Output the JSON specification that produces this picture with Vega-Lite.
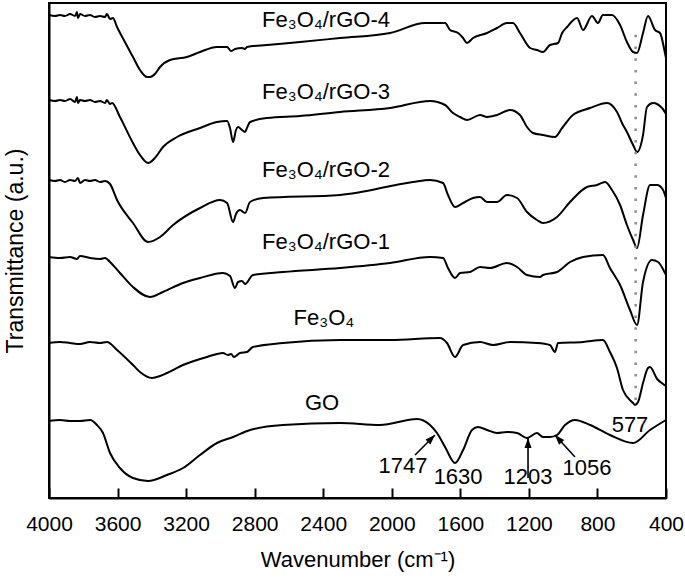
{
"$schema": "https://vega.github.io/schema/vega-lite/v6.json",
"width": 617, "height": 495,
"autosize": "none",
"padding": {"left": 49, "top": 3, "right": 19, "bottom": 80},
"config": {"view": {"stroke": "black", "strokeWidth": 2}, "font": "Liberation Sans", "axis": {"grid": false}},
"datasets": {
"spectra": [
{"s":"rGO4","w":4000,"T":483},{"s":"rGO4","w":3965,"T":482},{"s":"rGO4","w":3936,"T":483},{"s":"rGO4","w":3907,"T":482},{"s":"rGO4","w":3877,"T":484},{"s":"rGO4","w":3848,"T":482},{"s":"rGO4","w":3837,"T":486},{"s":"rGO4","w":3831,"T":480},{"s":"rGO4","w":3819,"T":484},{"s":"rGO4","w":3790,"T":482},{"s":"rGO4","w":3761,"T":483},{"s":"rGO4","w":3732,"T":481},{"s":"rGO4","w":3702,"T":482},{"s":"rGO4","w":3673,"T":481},{"s":"rGO4","w":3662,"T":484},{"s":"rGO4","w":3644,"T":479},{"s":"rGO4","w":3627,"T":480},{"s":"rGO4","w":3603,"T":471},{"s":"rGO4","w":3557,"T":456},{"s":"rGO4","w":3510,"T":441},{"s":"rGO4","w":3469,"T":428},{"s":"rGO4","w":3428,"T":421},{"s":"rGO4","w":3411,"T":421},{"s":"rGO4","w":3382,"T":424},{"s":"rGO4","w":3352,"T":431},{"s":"rGO4","w":3294,"T":438},{"s":"rGO4","w":3195,"T":441},{"s":"rGO4","w":3119,"T":446},{"s":"rGO4","w":3020,"T":451},{"s":"rGO4","w":2961,"T":451},{"s":"rGO4","w":2938,"T":447},{"s":"rGO4","w":2915,"T":449},{"s":"rGO4","w":2874,"T":450},{"s":"rGO4","w":2856,"T":449},{"s":"rGO4","w":2845,"T":451},{"s":"rGO4","w":2728,"T":453},{"s":"rGO4","w":2535,"T":456},{"s":"rGO4","w":2302,"T":460},{"s":"rGO4","w":2010,"T":465},{"s":"rGO4","w":1806,"T":475},{"s":"rGO4","w":1777,"T":475},{"s":"rGO4","w":1689,"T":475},{"s":"rGO4","w":1660,"T":468},{"s":"rGO4","w":1613,"T":465},{"s":"rGO4","w":1584,"T":460},{"s":"rGO4","w":1561,"T":455},{"s":"rGO4","w":1526,"T":460},{"s":"rGO4","w":1444,"T":465},{"s":"rGO4","w":1386,"T":470},{"s":"rGO4","w":1328,"T":475},{"s":"rGO4","w":1293,"T":475},{"s":"rGO4","w":1252,"T":465},{"s":"rGO4","w":1193,"T":450},{"s":"rGO4","w":1153,"T":448},{"s":"rGO4","w":1118,"T":446},{"s":"rGO4","w":1077,"T":453},{"s":"rGO4","w":1030,"T":455},{"s":"rGO4","w":1006,"T":465},{"s":"rGO4","w":977,"T":471},{"s":"rGO4","w":919,"T":480},{"s":"rGO4","w":884,"T":468},{"s":"rGO4","w":832,"T":482},{"s":"rGO4","w":797,"T":475},{"s":"rGO4","w":768,"T":483},{"s":"rGO4","w":715,"T":483},{"s":"rGO4","w":668,"T":473},{"s":"rGO4","w":628,"T":456},{"s":"rGO4","w":592,"T":446},{"s":"rGO4","w":569,"T":445},{"s":"rGO4","w":534,"T":465},{"s":"rGO4","w":505,"T":482},{"s":"rGO4","w":464,"T":468},{"s":"rGO4","w":435,"T":465},{"s":"rGO4","w":406,"T":445},{"s":"rGO4","w":400,"T":440},

{"s":"rGO3","w":4000,"T":398},{"s":"rGO3","w":3965,"T":397},{"s":"rGO3","w":3936,"T":398},{"s":"rGO3","w":3907,"T":397},{"s":"rGO3","w":3877,"T":399},{"s":"rGO3","w":3848,"T":396},{"s":"rGO3","w":3837,"T":401},{"s":"rGO3","w":3831,"T":395},{"s":"rGO3","w":3819,"T":398},{"s":"rGO3","w":3790,"T":397},{"s":"rGO3","w":3761,"T":398},{"s":"rGO3","w":3732,"T":396},{"s":"rGO3","w":3702,"T":397},{"s":"rGO3","w":3673,"T":395},{"s":"rGO3","w":3662,"T":398},{"s":"rGO3","w":3644,"T":394},{"s":"rGO3","w":3632,"T":395},{"s":"rGO3","w":3586,"T":381},{"s":"rGO3","w":3510,"T":355},{"s":"rGO3","w":3469,"T":343},{"s":"rGO3","w":3422,"T":335},{"s":"rGO3","w":3382,"T":340},{"s":"rGO3","w":3335,"T":351},{"s":"rGO3","w":3253,"T":361},{"s":"rGO3","w":3119,"T":370},{"s":"rGO3","w":3020,"T":376},{"s":"rGO3","w":2961,"T":377},{"s":"rGO3","w":2944,"T":370},{"s":"rGO3","w":2926,"T":356},{"s":"rGO3","w":2909,"T":368},{"s":"rGO3","w":2897,"T":371},{"s":"rGO3","w":2874,"T":368},{"s":"rGO3","w":2856,"T":366},{"s":"rGO3","w":2845,"T":370},{"s":"rGO3","w":2827,"T":376},{"s":"rGO3","w":2728,"T":380},{"s":"rGO3","w":2535,"T":382},{"s":"rGO3","w":2302,"T":386},{"s":"rGO3","w":2010,"T":390},{"s":"rGO3","w":1777,"T":397},{"s":"rGO3","w":1689,"T":393},{"s":"rGO3","w":1643,"T":385},{"s":"rGO3","w":1601,"T":381},{"s":"rGO3","w":1561,"T":378},{"s":"rGO3","w":1485,"T":383},{"s":"rGO3","w":1444,"T":381},{"s":"rGO3","w":1386,"T":383},{"s":"rGO3","w":1310,"T":388},{"s":"rGO3","w":1252,"T":383},{"s":"rGO3","w":1211,"T":371},{"s":"rGO3","w":1176,"T":365},{"s":"rGO3","w":1118,"T":363},{"s":"rGO3","w":1048,"T":361},{"s":"rGO3","w":1006,"T":370},{"s":"rGO3","w":943,"T":383},{"s":"rGO3","w":843,"T":390},{"s":"rGO3","w":744,"T":395},{"s":"rGO3","w":686,"T":386},{"s":"rGO3","w":651,"T":373},{"s":"rGO3","w":628,"T":366},{"s":"rGO3","w":592,"T":353},{"s":"rGO3","w":569,"T":346},{"s":"rGO3","w":534,"T":363},{"s":"rGO3","w":511,"T":391},{"s":"rGO3","w":476,"T":395},{"s":"rGO3","w":423,"T":390},{"s":"rGO3","w":400,"T":384},

{"s":"rGO2","w":4000,"T":318},{"s":"rGO2","w":3965,"T":317},{"s":"rGO2","w":3936,"T":318},{"s":"rGO2","w":3907,"T":316},{"s":"rGO2","w":3877,"T":318},{"s":"rGO2","w":3848,"T":317},{"s":"rGO2","w":3831,"T":320},{"s":"rGO2","w":3819,"T":315},{"s":"rGO2","w":3790,"T":318},{"s":"rGO2","w":3761,"T":317},{"s":"rGO2","w":3732,"T":318},{"s":"rGO2","w":3702,"T":316},{"s":"rGO2","w":3673,"T":317},{"s":"rGO2","w":3644,"T":314},{"s":"rGO2","w":3603,"T":298},{"s":"rGO2","w":3510,"T":275},{"s":"rGO2","w":3422,"T":256},{"s":"rGO2","w":3352,"T":261},{"s":"rGO2","w":3276,"T":273},{"s":"rGO2","w":3119,"T":290},{"s":"rGO2","w":3002,"T":298},{"s":"rGO2","w":2961,"T":295},{"s":"rGO2","w":2926,"T":276},{"s":"rGO2","w":2909,"T":284},{"s":"rGO2","w":2886,"T":288},{"s":"rGO2","w":2856,"T":285},{"s":"rGO2","w":2827,"T":296},{"s":"rGO2","w":2751,"T":300},{"s":"rGO2","w":2302,"T":303},{"s":"rGO2","w":1876,"T":316},{"s":"rGO2","w":1777,"T":318},{"s":"rGO2","w":1701,"T":315},{"s":"rGO2","w":1672,"T":303},{"s":"rGO2","w":1631,"T":291},{"s":"rGO2","w":1584,"T":295},{"s":"rGO2","w":1526,"T":300},{"s":"rGO2","w":1485,"T":301},{"s":"rGO2","w":1444,"T":296},{"s":"rGO2","w":1386,"T":296},{"s":"rGO2","w":1328,"T":303},{"s":"rGO2","w":1269,"T":300},{"s":"rGO2","w":1211,"T":286},{"s":"rGO2","w":1153,"T":278},{"s":"rGO2","w":1118,"T":275},{"s":"rGO2","w":1036,"T":281},{"s":"rGO2","w":960,"T":296},{"s":"rGO2","w":861,"T":311},{"s":"rGO2","w":803,"T":313},{"s":"rGO2","w":756,"T":316},{"s":"rGO2","w":715,"T":308},{"s":"rGO2","w":668,"T":293},{"s":"rGO2","w":628,"T":273},{"s":"rGO2","w":592,"T":258},{"s":"rGO2","w":569,"T":250},{"s":"rGO2","w":534,"T":283},{"s":"rGO2","w":493,"T":313},{"s":"rGO2","w":452,"T":313},{"s":"rGO2","w":417,"T":308},{"s":"rGO2","w":400,"T":300},

{"s":"rGO1","w":4000,"T":241},{"s":"rGO1","w":3936,"T":240},{"s":"rGO1","w":3877,"T":241},{"s":"rGO1","w":3837,"T":239},{"s":"rGO1","w":3819,"T":242},{"s":"rGO1","w":3761,"T":240},{"s":"rGO1","w":3702,"T":239},{"s":"rGO1","w":3673,"T":240},{"s":"rGO1","w":3644,"T":236},{"s":"rGO1","w":3586,"T":225},{"s":"rGO1","w":3510,"T":211},{"s":"rGO1","w":3411,"T":201},{"s":"rGO1","w":3335,"T":206},{"s":"rGO1","w":3218,"T":215},{"s":"rGO1","w":3119,"T":220},{"s":"rGO1","w":2985,"T":225},{"s":"rGO1","w":2944,"T":222},{"s":"rGO1","w":2915,"T":210},{"s":"rGO1","w":2897,"T":216},{"s":"rGO1","w":2874,"T":217},{"s":"rGO1","w":2856,"T":214},{"s":"rGO1","w":2810,"T":223},{"s":"rGO1","w":2635,"T":226},{"s":"rGO1","w":2302,"T":230},{"s":"rGO1","w":2010,"T":235},{"s":"rGO1","w":1777,"T":241},{"s":"rGO1","w":1701,"T":240},{"s":"rGO1","w":1672,"T":230},{"s":"rGO1","w":1631,"T":220},{"s":"rGO1","w":1601,"T":225},{"s":"rGO1","w":1543,"T":226},{"s":"rGO1","w":1485,"T":231},{"s":"rGO1","w":1427,"T":230},{"s":"rGO1","w":1328,"T":235},{"s":"rGO1","w":1269,"T":231},{"s":"rGO1","w":1211,"T":223},{"s":"rGO1","w":1135,"T":221},{"s":"rGO1","w":1118,"T":223},{"s":"rGO1","w":1036,"T":226},{"s":"rGO1","w":960,"T":236},{"s":"rGO1","w":884,"T":241},{"s":"rGO1","w":768,"T":243},{"s":"rGO1","w":727,"T":230},{"s":"rGO1","w":668,"T":213},{"s":"rGO1","w":610,"T":188},{"s":"rGO1","w":569,"T":173},{"s":"rGO1","w":534,"T":216},{"s":"rGO1","w":482,"T":238},{"s":"rGO1","w":446,"T":236},{"s":"rGO1","w":406,"T":225},{"s":"rGO1","w":400,"T":223},

{"s":"Fe3O4","w":4000,"T":155},{"s":"Fe3O4","w":3936,"T":156},{"s":"Fe3O4","w":3877,"T":155},{"s":"Fe3O4","w":3819,"T":154},{"s":"Fe3O4","w":3761,"T":156},{"s":"Fe3O4","w":3702,"T":155},{"s":"Fe3O4","w":3662,"T":156},{"s":"Fe3O4","w":3603,"T":148},{"s":"Fe3O4","w":3510,"T":133},{"s":"Fe3O4","w":3469,"T":126},{"s":"Fe3O4","w":3399,"T":120},{"s":"Fe3O4","w":3352,"T":122},{"s":"Fe3O4","w":3312,"T":125},{"s":"Fe3O4","w":3218,"T":133},{"s":"Fe3O4","w":3078,"T":141},{"s":"Fe3O4","w":2985,"T":145},{"s":"Fe3O4","w":2956,"T":143},{"s":"Fe3O4","w":2938,"T":144},{"s":"Fe3O4","w":2921,"T":141},{"s":"Fe3O4","w":2886,"T":145},{"s":"Fe3O4","w":2845,"T":146},{"s":"Fe3O4","w":2810,"T":151},{"s":"Fe3O4","w":2635,"T":155},{"s":"Fe3O4","w":2302,"T":158},{"s":"Fe3O4","w":2010,"T":158},{"s":"Fe3O4","w":1719,"T":160},{"s":"Fe3O4","w":1678,"T":155},{"s":"Fe3O4","w":1631,"T":141},{"s":"Fe3O4","w":1584,"T":153},{"s":"Fe3O4","w":1485,"T":156},{"s":"Fe3O4","w":1409,"T":153},{"s":"Fe3O4","w":1310,"T":156},{"s":"Fe3O4","w":1153,"T":155},{"s":"Fe3O4","w":1077,"T":153},{"s":"Fe3O4","w":1048,"T":146},{"s":"Fe3O4","w":1030,"T":155},{"s":"Fe3O4","w":884,"T":156},{"s":"Fe3O4","w":768,"T":158},{"s":"Fe3O4","w":727,"T":146},{"s":"Fe3O4","w":686,"T":130},{"s":"Fe3O4","w":651,"T":108},{"s":"Fe3O4","w":592,"T":95},{"s":"Fe3O4","w":581,"T":93},{"s":"Fe3O4","w":563,"T":96},{"s":"Fe3O4","w":534,"T":115},{"s":"Fe3O4","w":505,"T":130},{"s":"Fe3O4","w":493,"T":131},{"s":"Fe3O4","w":452,"T":119},{"s":"Fe3O4","w":417,"T":114},{"s":"Fe3O4","w":400,"T":112},

{"s":"GO","w":4000,"T":77},{"s":"GO","w":3936,"T":78},{"s":"GO","w":3877,"T":77},{"s":"GO","w":3819,"T":77},{"s":"GO","w":3761,"T":78},{"s":"GO","w":3720,"T":73},{"s":"GO","w":3685,"T":65},{"s":"GO","w":3644,"T":45},{"s":"GO","w":3586,"T":30},{"s":"GO","w":3510,"T":20},{"s":"GO","w":3422,"T":17},{"s":"GO","w":3312,"T":23},{"s":"GO","w":3218,"T":30},{"s":"GO","w":3119,"T":43},{"s":"GO","w":3020,"T":55},{"s":"GO","w":2926,"T":61},{"s":"GO","w":2827,"T":68},{"s":"GO","w":2635,"T":73},{"s":"GO","w":2302,"T":75},{"s":"GO","w":2069,"T":73},{"s":"GO","w":1853,"T":79},{"s":"GO","w":1777,"T":73},{"s":"GO","w":1736,"T":65},{"s":"GO","w":1689,"T":51},{"s":"GO","w":1631,"T":35},{"s":"GO","w":1584,"T":48},{"s":"GO","w":1532,"T":68},{"s":"GO","w":1497,"T":71},{"s":"GO","w":1444,"T":68},{"s":"GO","w":1386,"T":65},{"s":"GO","w":1328,"T":66},{"s":"GO","w":1269,"T":65},{"s":"GO","w":1211,"T":60},{"s":"GO","w":1153,"T":65},{"s":"GO","w":1118,"T":61},{"s":"GO","w":1077,"T":61},{"s":"GO","w":1036,"T":63},{"s":"GO","w":989,"T":73},{"s":"GO","w":931,"T":78},{"s":"GO","w":843,"T":73},{"s":"GO","w":727,"T":63},{"s":"GO","w":592,"T":55},{"s":"GO","w":493,"T":68},{"s":"GO","w":400,"T":78}
],
"labels": [
{"text":"Fe₃O₄/rGO-4","w":2384,"T":478},
{"text":"Fe₃O₄/rGO-3","w":2384,"T":406},
{"text":"Fe₃O₄/rGO-2","w":2384,"T":328},
{"text":"Fe₃O₄/rGO-1","w":2384,"T":256},
{"text":"Fe₃O₄","w":2396,"T":180},
{"text":"GO","w":2407,"T":95}
],
"peaks": [
{"text":"1747","w":1934,"T":32},
{"text":"1630","w":1613,"T":21},
{"text":"1203","w":1205,"T":21},
{"text":"1056","w":861,"T":30},
{"text":"577","w":610,"T":73}
],
"arrows": [
{"peak":"1747","w":1864,"T":43,"w2":1748,"T2":63},
{"peak":"1203","w":1205,"T":20,"w2":1205,"T2":60},
{"peak":"1056","w":931,"T":41,"w2":1048,"T2":63}
],
"marker": [{"w":577,"T":98,"T2":470}]
},
"layer": [
{
"data": {"name": "spectra"},
"mark": {"type": "line", "color": "black", "strokeWidth": 2, "interpolate": "monotone"},
"encoding": {
"x": {"field": "w", "type": "quantitative", "scale": {"domain": [400, 4000], "reverse": true, "nice": false, "zero": false},
  "axis": {"values": [4000,3800,3600,3400,3200,3000,2800,2600,2400,2200,2000,1800,1600,1400,1200,1000,800,600,400],
    "format": "d",
    "labelExpr": "datum.value % 400 === 0 ? datum.label : ''",
    "tickSize": {"condition": {"test": "datum.value % 400 === 0", "value": -10}, "value": -5},
    "tickWidth": 2, "tickColor": "black", "domainColor": "black", "domainWidth": 2,
    "labelFontSize": 21, "labelColor": "black", "labelPadding": 25, "labelFlush": false, "labelOverlap": false,
    "title": "Wavenumber (cm⁻¹)", "titleFontSize": 22, "titleFontWeight": "normal", "titleColor": "black", "titlePadding": 15}},
"y": {"field": "T", "type": "quantitative", "scale": {"domain": [0, 495], "nice": false},
  "axis": {"ticks": false, "labels": false, "domainColor": "black", "domainWidth": 2,
    "title": "Transmittance (a.u.)", "titleFontSize": 23, "titleFontWeight": "normal", "titleColor": "black", "titlePadding": 22}},
"detail": {"field": "s", "type": "nominal"}
}
},
{
"data": {"name": "marker"},
"mark": {"type": "rule", "color": "#8c8c8c", "strokeWidth": 2.5, "strokeDash": [2.5, 9.2]},
"encoding": {
"x": {"field": "w", "type": "quantitative"},
"y": {"field": "T", "type": "quantitative"},
"y2": {"field": "T2"}
}
},
{
"data": {"name": "labels"},
"mark": {"type": "text", "fontSize": 22, "color": "black", "align": "center", "baseline": "middle"},
"encoding": {
"x": {"field": "w", "type": "quantitative"},
"y": {"field": "T", "type": "quantitative"},
"text": {"field": "text"}
}
},
{
"data": {"name": "peaks"},
"mark": {"type": "text", "fontSize": 22, "color": "black", "align": "center", "baseline": "middle"},
"encoding": {
"x": {"field": "w", "type": "quantitative"},
"y": {"field": "T", "type": "quantitative"},
"text": {"field": "text"}
}
},
{
"data": {"name": "arrows"},
"mark": {"type": "rule", "color": "black", "strokeWidth": 1.6},
"encoding": {
"x": {"field": "w", "type": "quantitative"},
"y": {"field": "T", "type": "quantitative"},
"x2": {"field": "w2"},
"y2": {"field": "T2"}
}
},
{
"data": {"name": "arrows"},
"transform": [{"filter": "datum.peak === '1747'"}],
"mark": {"type": "point", "shape": "M0,0L0.7,2L-0.7,2Z", "size": 100, "filled": true, "color": "black", "opacity": 1, "angle": 45},
"encoding": {
"x": {"field": "w2", "type": "quantitative"},
"y": {"field": "T2", "type": "quantitative"}
}
},
{
"data": {"name": "arrows"},
"transform": [{"filter": "datum.peak === '1203'"}],
"mark": {"type": "point", "shape": "M0,0L0.7,2L-0.7,2Z", "size": 100, "filled": true, "color": "black", "opacity": 1, "angle": 0},
"encoding": {
"x": {"field": "w2", "type": "quantitative"},
"y": {"field": "T2", "type": "quantitative"}
}
},
{
"data": {"name": "arrows"},
"transform": [{"filter": "datum.peak === '1056'"}],
"mark": {"type": "point", "shape": "M0,0L0.7,2L-0.7,2Z", "size": 100, "filled": true, "color": "black", "opacity": 1, "angle": 318},
"encoding": {
"x": {"field": "w2", "type": "quantitative"},
"y": {"field": "T2", "type": "quantitative"}
}
}
]
}
